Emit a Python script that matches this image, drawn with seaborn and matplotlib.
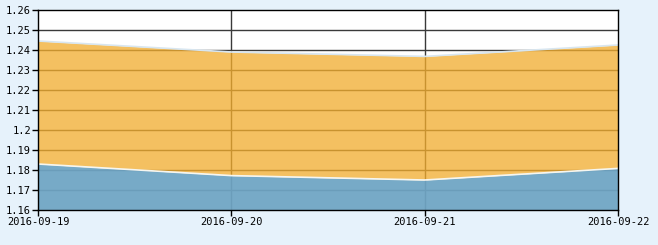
import matplotlib
matplotlib.use("Agg")
import matplotlib.pyplot as plt
import seaborn as sns
import numpy as np
import pandas as pd

dates = ["2016-09-19", "2016-09-20", "2016-09-21", "2016-09-22"]
upper = [1.2445, 1.2390, 1.2368, 1.2425]
lower = [1.1830, 1.1772, 1.1750, 1.1808]
yticks = [1.16, 1.17, 1.18, 1.19, 1.2, 1.21, 1.22, 1.23, 1.24, 1.25, 1.26]
ytick_labels = ["1.16", "1.17", "1.18", "1.19", "1.2", "1.21", "1.22", "1.23", "1.24", "1.25", "1.26"]

sns.set_style("white")
plt.rcParams['font.family'] = ['DejaVu Sans Mono']

df = pd.DataFrame({"x": np.arange(len(dates)), "upper": upper, "lower": lower})

fig = plt.figure(figsize=(6.58, 2.45), dpi=100, facecolor="#E6F2FB")
ax = fig.add_axes([38/658, 35/245, 580/658, 200/245])
ax.set_facecolor("white")

x = df["x"].to_numpy()
orange_poly = ax.fill_between(x, df["lower"], df["upper"], color="#F4C061", lw=0, zorder=1)
blue_poly = ax.fill_between(x, 1.16, df["lower"], color="#77AAC7", lw=0, zorder=1)
sns.lineplot(data=df, x="x", y="upper", ax=ax, color="#D8E6F0", lw=1.2, zorder=3)
sns.lineplot(data=df, x="x", y="lower", ax=ax, color="#F6F6F0", lw=1.2, zorder=3)

grid_y = yticks[1:-1]
grid_x = x[1:-1]

def grid(color, zorder, clip=None):
    lines = [ax.axhline(yv, color=color, lw=1, zorder=zorder) for yv in grid_y]
    lines += [ax.axvline(xv, color=color, lw=1, zorder=zorder) for xv in grid_x]
    if clip is not None:
        for ln in lines:
            ln.set_clip_path(clip.get_paths()[0], ax.transData)

grid("#3A3A3A", 0.5)
grid("#C8922F", 2, orange_poly)
grid("#6B9DBA", 2, blue_poly)

ax.set_xlim(0, len(dates) - 1)
ax.set_ylim(1.16, 1.26)
ax.set_yticks(yticks)
ax.set_yticklabels(ytick_labels)
ax.set_xticks(x)
ax.set_xticklabels(dates)
ax.set_xlabel("")
ax.set_ylabel("")
ax.tick_params(axis="both", direction="out", length=4, width=1, color="black",
               labelsize=7.5, labelcolor="black", pad=1, left=True, bottom=True)
for s in ax.spines.values():
    s.set_color("black")
    s.set_linewidth(1)
    s.set_visible(True)
    s.set_zorder(5)

fig.savefig("out.png", dpi=100, facecolor=fig.get_facecolor())
